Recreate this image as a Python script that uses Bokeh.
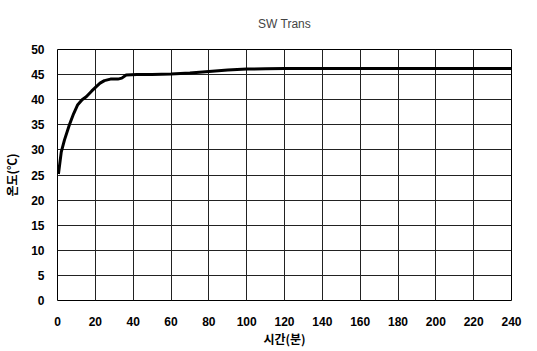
from bokeh.plotting import figure
from bokeh.models import Range1d, FixedTicker
from bokeh.embed import file_html
from bokeh.resources import INLINE

title_text = "SW Trans"
x_label = "시간(분)"
y_label = "온도(℃)"
x_ticks = [0, 20, 40, 60, 80, 100, 120, 140, 160, 180, 200, 220, 240]
y_ticks = [0, 5, 10, 15, 20, 25, 30, 35, 40, 45, 50]

time_min = [0.5, 2, 3.7, 6.3, 8.5, 10.7, 13, 15.2, 18, 20.5, 22.5, 24.8, 28, 31.9, 34, 36.3, 42, 50, 60, 70, 80, 90, 100, 110, 120, 140, 160, 180, 200, 220, 240]
temp_c = [25.2, 29.6, 32, 35, 37.2, 39, 40.0, 40.6, 41.7, 42.6, 43.3, 43.8, 44.1, 44.1, 44.3, 44.9, 45.0, 45.0, 45.1, 45.3, 45.6, 45.9, 46.1, 46.15, 46.2, 46.2, 46.2, 46.2, 46.2, 46.2, 46.2]

p = figure(frame_width=454, frame_height=251, output_backend="svg", toolbar_location=None,
           x_range=Range1d(0, 240), y_range=Range1d(0, 50))
p.min_border_left = 0
p.min_border_right = 20
p.min_border_top = 0
p.min_border_bottom = 0

p.title.text = title_text
p.title.align = "center"
p.title.vertical_align = "top"
p.title.text_font = "Liberation Sans"
p.title.text_font_size = "12px"
p.title.text_font_style = "normal"
p.title.standoff = 33

p.line(time_min, temp_c, line_color="black", line_width=3)

for ax in (p.xaxis[0], p.yaxis[0]):
    ax.major_tick_in = 0
    ax.major_tick_out = 0
    ax.minor_tick_in = 0
    ax.minor_tick_out = 0
    ax.axis_line_color = None
    ax.major_label_text_font = "Liberation Sans"
    ax.major_label_text_font_size = "12px"
    ax.major_label_text_font_style = "bold"
    ax.major_label_text_color = "black"
    ax.axis_label_text_font = "Noto Sans CJK KR"
    ax.axis_label_text_font_size = "12px"
    ax.axis_label_text_font_style = "bold"
    ax.axis_label_text_color = "black"

p.xaxis.ticker = FixedTicker(ticks=x_ticks)
p.yaxis.ticker = FixedTicker(ticks=y_ticks)
p.xaxis.axis_label = x_label
p.yaxis.axis_label = y_label
p.xaxis.major_label_standoff = 16
p.yaxis.major_label_standoff = 13
p.xaxis.axis_label_standoff = 1
p.yaxis.axis_label_standoff = 8

p.xgrid.grid_line_color = "#222222"
p.ygrid.grid_line_color = "#222222"
p.xgrid.grid_line_width = 1
p.ygrid.grid_line_width = 1
p.outline_line_color = "black"
p.outline_line_width = 1
p.background_fill_color = "white"
p.border_fill_color = "white"

open("out.html", "w").write(file_html(p, INLINE))
